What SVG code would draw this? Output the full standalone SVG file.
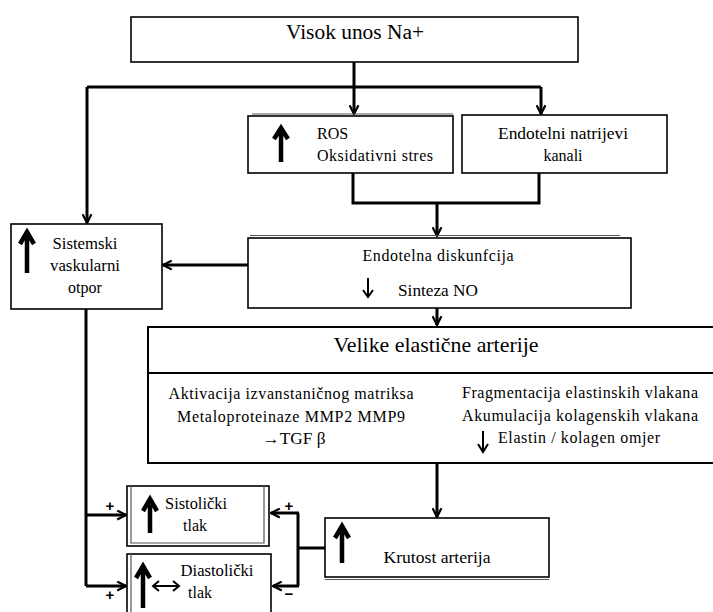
<svg xmlns="http://www.w3.org/2000/svg" width="713" height="612" viewBox="0 0 713 612" font-family="Liberation Serif, Times New Roman, serif">
<defs>
<style>
.box{fill:#fff;stroke:#000;stroke-width:1.6}
.sh{fill:none;stroke:#555;stroke-width:1.2}
.c{text-anchor:middle}
.con{fill:none;stroke:#000;stroke-width:3}
.ua{fill:none;stroke:#000;stroke-width:4.5;stroke-linejoin:miter}
.da{fill:none;stroke:#000;stroke-width:2}
</style>
<marker id="ah" viewBox="0 0 10 10" refX="9" refY="5" markerWidth="11" markerHeight="11" markerUnits="userSpaceOnUse" orient="auto">
<path d="M1,1 L9,5 L1,9" fill="none" stroke="#000" stroke-width="2"/>
</marker>
</defs>
<rect width="713" height="612" fill="#fff"/>

<g id="connectors">
<path class="con" d="M354,62 V87 M87,87 H541" />
<path class="con" d="M354,87 V114" marker-end="url(#ah)"/>
<path class="con" d="M541,87 V114" marker-end="url(#ah)"/>
<path class="con" d="M87,87 V223" marker-end="url(#ah)"/>
<path class="con" d="M353,173 V203 H539 V173"/>
<path class="con" d="M437,203 V236" marker-end="url(#ah)"/>
<path class="con" d="M248,265 H163" marker-end="url(#ah)"/>
<path class="con" d="M437,308 V325" marker-end="url(#ah)"/>
<path class="con" d="M86,309 V586"/>
<path class="con" d="M86,515 H126" marker-end="url(#ah)"/>
<path class="con" d="M86,586 H126" marker-end="url(#ah)"/>
<path class="con" d="M437,373 V517" marker-end="url(#ah)"/>
<path class="con" d="M325,548 H298 M298,513 V586"/>
<path class="con" d="M299,513 H271" marker-end="url(#ah)"/>
<path class="con" d="M299,586 H273" marker-end="url(#ah)"/>
<g font-family="Liberation Sans, Arial, sans-serif" font-size="15" font-weight="bold" text-anchor="middle">
<text x="110" y="511">+</text>
<text x="110" y="600">+</text>
<text x="289" y="511">+</text>
<text x="289" y="599">−</text>
</g>
</g>

<g font-size="16">
<g id="n-visok">
<rect class="box" x="131" y="17" width="447" height="45"/>
<text class="c" x="355" y="39" font-size="20" textLength="138" lengthAdjust="spacingAndGlyphs">Visok unos Na+</text>
</g>

<g id="n-ros">
<path class="sh" d="M252,114 H453"/>
<rect class="box" x="248" y="116" width="205" height="57"/>
<path class="ua" d="M281,162 V129 M274,139 L281,128 L288,139"/>
<text x="317" y="139">ROS</text>
<text x="317" y="161" textLength="116" lengthAdjust="spacing">Oksidativni stres</text>
</g>

<g id="n-natrij">
<rect class="box" x="462" y="115" width="205" height="58"/>
<text class="c" x="563" y="139" textLength="130" lengthAdjust="spacingAndGlyphs">Endotelni natrijevi</text>
<text class="c" x="563" y="161">kanali</text>
</g>

<g id="n-sistemski">
<rect class="box" x="11" y="224" width="151" height="85"/>
<path class="ua" d="M27,273 V233 M20,244 L27,232 L34,244"/>
<text class="c" x="85" y="249" textLength="65" lengthAdjust="spacingAndGlyphs">Sistemski</text>
<text class="c" x="85" y="271" textLength="70" lengthAdjust="spacingAndGlyphs">vaskularni</text>
<text class="c" x="85" y="293">otpor</text>
</g>

<g id="n-endotelna">
<path class="sh" d="M250,235.5 H620"/>
<rect class="box" x="248" y="238" width="383" height="70"/>
<text class="c" x="438" y="261" textLength="151" lengthAdjust="spacing">Endotelna diskunfcija</text>
<path class="da" d="M368,278 V296 M363,290 L368,297 L373,290"/>
<text class="c" x="438" y="296" textLength="80" lengthAdjust="spacingAndGlyphs">Sinteza NO</text>
</g>

<g id="n-velike">
<rect class="box" x="148" y="327" width="580" height="136" style="stroke-width:2"/>
<path d="M148,373 H713" stroke="#000" stroke-width="2"/>
<text class="c" x="436" y="352" font-size="21" textLength="205" lengthAdjust="spacingAndGlyphs">Velike elastične arterije</text>
<text class="c" x="291" y="399" textLength="245" lengthAdjust="spacing">Aktivacija izvanstaničnog matriksa</text>
<text class="c" x="291" y="422" textLength="228" lengthAdjust="spacing">Metaloproteinaze MMP2 MMP9</text>
<text class="c" x="294" y="444" textLength="63" lengthAdjust="spacingAndGlyphs">→TGF β</text>
<text class="c" x="580" y="398" textLength="236" lengthAdjust="spacing">Fragmentacija elastinskih vlakana</text>
<text class="c" x="580" y="421" textLength="236" lengthAdjust="spacing">Akumulacija kolagenskih vlakana</text>
<path class="da" d="M483,431 V451 M478,444 L483,452 L488,444"/>
<text x="498" y="443" textLength="162" lengthAdjust="spacing">Elastin / kolagen omjer</text>
</g>

<g id="n-sistolicki">
<rect class="box" x="127" y="486" width="142" height="60"/>
<path class="sh" d="M131,486 V543 H264 V486"/>
<path class="ua" d="M150,533 V501 M143,511 L150,499 L157,511"/>
<text class="c" x="196" y="509" textLength="62" lengthAdjust="spacingAndGlyphs">Sistolički</text>
<text class="c" x="195" y="531">tlak</text>
</g>

<g id="n-diastolicki">
<rect class="box" x="127" y="554" width="144" height="70"/>
<path class="sh" d="M131,554 V612"/>
<path class="ua" d="M143,608 V568 M136,578 L143,566 L150,578"/>
<path class="da" d="M154,586 H179 M159,581 L153,586 L159,591 M173,581 L179,586 L173,591"/>
<text class="c" x="217" y="576" textLength="73" lengthAdjust="spacingAndGlyphs">Diastolički</text>
<text class="c" x="200" y="598">tlak</text>
</g>

<g id="n-krutost">
<rect class="box" x="325" y="518" width="224" height="59"/>
<path class="sh" d="M325,579.5 H549"/>
<path class="ua" d="M342,563 V528 M335,538 L342,526 L349,538"/>
<text class="c" x="437" y="563" textLength="107" lengthAdjust="spacingAndGlyphs">Krutost arterija</text>
</g>
</g>
</svg>
